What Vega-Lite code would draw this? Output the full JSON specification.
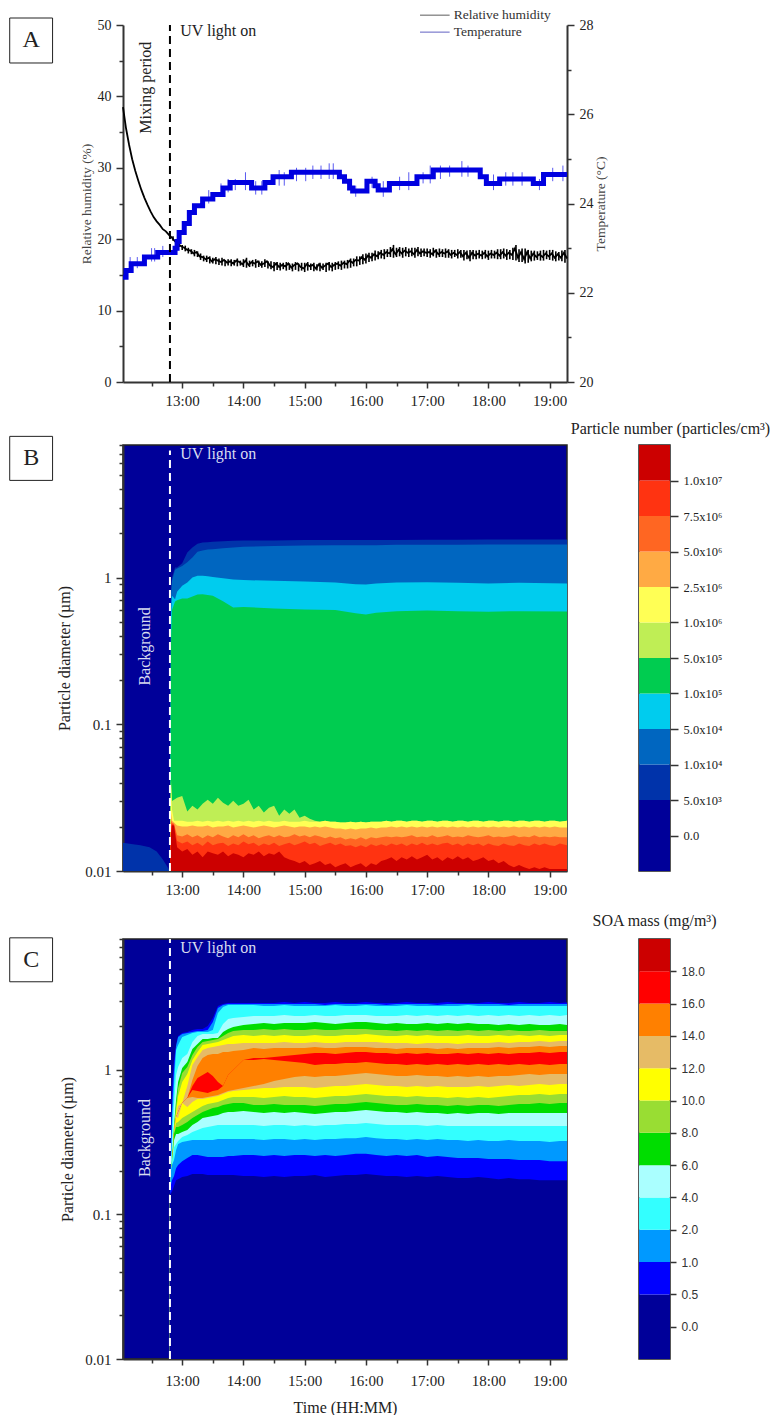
{
  "$schema": "https://vega.github.io/schema/vega-lite/v6.json",
  "background": "white",
  "padding": {"left": 8, "top": 8, "right": 0, "bottom": 0},
  "columns": 2,
  "bounds": "flush",
  "spacing": {"row": 68, "column": 72},
  "resolve": {"scale": {"color": "independent"}},
  "config": {
    "view": {"stroke": null},
    "axis": {
      "grid": false, "zindex": 1, "labelFont": "Liberation Serif", "titleFont": "Liberation Serif",
      "labelFontSize": 15, "titleFontSize": 16, "titleFontWeight": "normal", "labelColor": "#222", "titleColor": "#222",
      "domainColor": "#333", "tickColor": "#333", "domainWidth": 2, "tickWidth": 1.5, "tickSize": 7, "labelPadding": 5,
      "labelOverlap": false, "labelBound": false, "labelFlush": false
    },
    "title": {"font": "Liberation Serif", "fontSize": 16, "fontWeight": "normal", "color": "#222"},
    "text": {"font": "Liberation Serif"}
  },
  "concat": [
    {
      "width": 444,
      "height": 352,
      "resolve": {"scale": {"y": "independent"}, "axis": {"x": "independent", "y": "independent"}},
      "layer": [
        {
          "data": {"format": {"parse": {"t": "date:'%H:%M'"}}, "values": [
            {"t":"12:02","rh":38.5},{"t":"12:05","rh":35.5},{"t":"12:08","rh":33.2},{"t":"12:11","rh":31.2},{"t":"12:14","rh":29.6},{"t":"12:17","rh":28.2},{"t":"12:20","rh":26.9},{"t":"12:23","rh":25.8},{"t":"12:26","rh":24.8},{"t":"12:29","rh":23.9},{"t":"12:32","rh":23.1},{"t":"12:35","rh":22.5},{"t":"12:38","rh":22.0},{"t":"12:41","rh":21.4},{"t":"12:44","rh":21.1},{"t":"12:47","rh":20.6},{"t":"12:50","rh":20.2},{"t":"12:53","rh":19.7},{"t":"12:56","rh":19.3},{"t":"12:59","rh":19.0},{"t":"13:02","rh":18.8},{"t":"13:05","rh":18.5},{"t":"13:08","rh":18.4},{"t":"13:11","rh":18.0},{"t":"13:14","rh":18.2},{"t":"13:17","rh":17.6},{"t":"13:20","rh":17.5},{"t":"13:23","rh":17.2},{"t":"13:26","rh":17.4},{"t":"13:29","rh":16.9},{"t":"13:32","rh":17.2},{"t":"13:35","rh":17.0},{"t":"13:38","rh":16.8},{"t":"13:41","rh":17.1},{"t":"13:44","rh":16.7},{"t":"13:47","rh":16.9},{"t":"13:50","rh":16.6},{"t":"13:53","rh":17.0},{"t":"13:56","rh":16.8},{"t":"13:59","rh":16.5},{"t":"14:02","rh":17.0},{"t":"14:05","rh":16.4},{"t":"14:08","rh":16.8},{"t":"14:11","rh":16.6},{"t":"14:14","rh":16.9},{"t":"14:17","rh":16.4},{"t":"14:20","rh":16.6},{"t":"14:23","rh":16.9},{"t":"14:26","rh":16.3},{"t":"14:29","rh":16.1},{"t":"14:32","rh":16.6},{"t":"14:35","rh":16.1},{"t":"14:38","rh":16.4},{"t":"14:41","rh":16.2},{"t":"14:44","rh":16.6},{"t":"14:47","rh":16.0},{"t":"14:50","rh":16.4},{"t":"14:53","rh":16.6},{"t":"14:56","rh":16.1},{"t":"14:59","rh":15.9},{"t":"15:02","rh":16.5},{"t":"15:05","rh":16.2},{"t":"15:08","rh":16.4},{"t":"15:11","rh":15.9},{"t":"15:14","rh":16.5},{"t":"15:17","rh":16.0},{"t":"15:20","rh":16.3},{"t":"15:23","rh":16.6},{"t":"15:26","rh":16.1},{"t":"15:29","rh":16.4},{"t":"15:32","rh":16.6},{"t":"15:35","rh":16.3},{"t":"15:38","rh":16.7},{"t":"15:41","rh":16.5},{"t":"15:44","rh":17.0},{"t":"15:47","rh":16.7},{"t":"15:50","rh":17.1},{"t":"15:53","rh":17.0},{"t":"15:56","rh":17.5},{"t":"15:59","rh":17.1},{"t":"16:02","rh":17.7},{"t":"16:05","rh":17.4},{"t":"16:08","rh":17.9},{"t":"16:11","rh":17.6},{"t":"16:14","rh":18.1},{"t":"16:17","rh":17.8},{"t":"16:20","rh":18.2},{"t":"16:23","rh":18.0},{"t":"16:26","rh":18.6},{"t":"16:29","rh":17.9},{"t":"16:32","rh":18.5},{"t":"16:35","rh":18.0},{"t":"16:38","rh":18.4},{"t":"16:41","rh":18.1},{"t":"16:44","rh":18.3},{"t":"16:47","rh":17.9},{"t":"16:50","rh":18.5},{"t":"16:53","rh":18.0},{"t":"16:56","rh":18.3},{"t":"16:59","rh":18.1},{"t":"17:02","rh":18.2},{"t":"17:05","rh":17.9},{"t":"17:08","rh":18.4},{"t":"17:11","rh":17.9},{"t":"17:14","rh":18.2},{"t":"17:17","rh":18.0},{"t":"17:20","rh":18.3},{"t":"17:23","rh":17.8},{"t":"17:26","rh":18.1},{"t":"17:29","rh":17.8},{"t":"17:32","rh":18.2},{"t":"17:35","rh":17.6},{"t":"17:38","rh":18.1},{"t":"17:41","rh":17.4},{"t":"17:44","rh":18.1},{"t":"17:47","rh":17.7},{"t":"17:50","rh":18.0},{"t":"17:53","rh":17.7},{"t":"17:56","rh":18.1},{"t":"17:59","rh":17.6},{"t":"18:02","rh":18.0},{"t":"18:05","rh":17.8},{"t":"18:08","rh":18.1},{"t":"18:11","rh":17.7},{"t":"18:14","rh":18.2},{"t":"18:17","rh":17.7},{"t":"18:20","rh":18.1},{"t":"18:23","rh":17.8},{"t":"18:26","rh":18.7},{"t":"18:29","rh":17.4},{"t":"18:32","rh":18.2},{"t":"18:35","rh":17.2},{"t":"18:38","rh":18.2},{"t":"18:41","rh":17.3},{"t":"18:44","rh":18.0},{"t":"18:47","rh":17.5},{"t":"18:50","rh":17.9},{"t":"18:53","rh":17.5},{"t":"18:56","rh":18.0},{"t":"18:59","rh":17.6},{"t":"19:02","rh":18.0},{"t":"19:05","rh":17.4},{"t":"19:08","rh":17.9},{"t":"19:11","rh":17.4},{"t":"19:14","rh":18.1},{"t":"19:17","rh":17.3}
          ]},
          "mark": {"type": "line", "color": "#000", "strokeWidth": 1.8},
          "encoding": {
            "x": {"field": "t", "type": "temporal", "scale": {"domain": ["1900-01-01T12:02", "1900-01-01T19:17"], "nice": false}, "axis": {"title": null, "orient": "bottom", "format": "%H:%M", "offset": 5, "tickSize": 6, "labelPadding": 5, "values": ["1900-01-01T13:00","1900-01-01T14:00","1900-01-01T15:00","1900-01-01T16:00","1900-01-01T17:00","1900-01-01T18:00","1900-01-01T19:00"]}},
            "y": {"field": "rh", "type": "quantitative", "scale": {"domain": [0, 50], "range": [357, 0], "nice": false}, "axis": {"title": "Relative humidity (%)", "orient": "left", "titleFontSize": 13.5, "titleColor": "#444", "titlePadding": 4, "labelFontSize": 14, "values": [0, 10, 20, 30, 40, 50]}}
          }
        },
        {
          "data": {"format": {"parse": {"t": "date:'%H:%M'"}}, "values": [
            {"t":"12:51","lo":19.8,"hi":20.4},{"t":"12:54","lo":19.2,"hi":19.9},{"t":"12:57","lo":18.9,"hi":19.5},{"t":"13:00","lo":18.5,"hi":19.2},{"t":"13:03","lo":18.3,"hi":19.1},{"t":"13:06","lo":18.0,"hi":18.8},{"t":"13:09","lo":17.9,"hi":18.6},{"t":"13:12","lo":17.6,"hi":18.5},{"t":"13:15","lo":17.5,"hi":18.3},{"t":"13:18","lo":17.1,"hi":18.0},{"t":"13:21","lo":16.9,"hi":17.7},{"t":"13:24","lo":16.8,"hi":17.7},{"t":"13:27","lo":16.6,"hi":17.6},{"t":"13:30","lo":16.6,"hi":17.4},{"t":"13:33","lo":16.5,"hi":17.5},{"t":"13:36","lo":16.4,"hi":17.3},{"t":"13:39","lo":16.3,"hi":17.4},{"t":"13:42","lo":16.2,"hi":17.1},{"t":"13:45","lo":16.3,"hi":17.2},{"t":"13:48","lo":16.2,"hi":17.2},{"t":"13:51","lo":16.3,"hi":17.1},{"t":"13:54","lo":16.2,"hi":17.3},{"t":"13:57","lo":16.3,"hi":17.0},{"t":"14:00","lo":16.1,"hi":17.2},{"t":"14:03","lo":16.0,"hi":17.4},{"t":"14:06","lo":16.1,"hi":17.0},{"t":"14:09","lo":16.2,"hi":17.1},{"t":"14:12","lo":16.0,"hi":17.2},{"t":"14:15","lo":16.1,"hi":17.0},{"t":"14:18","lo":16.0,"hi":16.9},{"t":"14:21","lo":16.1,"hi":17.2},{"t":"14:24","lo":15.9,"hi":16.9},{"t":"14:27","lo":15.8,"hi":16.9},{"t":"14:30","lo":15.5,"hi":16.8},{"t":"14:33","lo":15.7,"hi":16.8},{"t":"14:36","lo":15.6,"hi":16.7},{"t":"14:39","lo":15.8,"hi":16.7},{"t":"14:42","lo":15.6,"hi":16.8},{"t":"14:45","lo":15.7,"hi":16.6},{"t":"14:48","lo":15.5,"hi":16.6},{"t":"14:51","lo":15.7,"hi":16.8},{"t":"14:54","lo":15.5,"hi":16.6},{"t":"14:57","lo":15.6,"hi":16.7},{"t":"15:00","lo":15.4,"hi":16.7},{"t":"15:03","lo":15.6,"hi":16.8},{"t":"15:06","lo":15.7,"hi":16.6},{"t":"15:09","lo":15.5,"hi":16.7},{"t":"15:12","lo":15.6,"hi":16.5},{"t":"15:15","lo":15.5,"hi":16.7},{"t":"15:18","lo":15.7,"hi":16.6},{"t":"15:21","lo":15.4,"hi":16.7},{"t":"15:24","lo":15.6,"hi":16.8},{"t":"15:27","lo":15.5,"hi":16.7},{"t":"15:30","lo":15.7,"hi":16.8},{"t":"15:33","lo":15.8,"hi":16.9},{"t":"15:36","lo":15.7,"hi":17.0},{"t":"15:39","lo":15.9,"hi":17.0},{"t":"15:42","lo":15.9,"hi":17.1},{"t":"15:45","lo":16.0,"hi":17.3},{"t":"15:48","lo":16.2,"hi":17.3},{"t":"15:51","lo":16.2,"hi":17.6},{"t":"15:54","lo":16.4,"hi":17.6},{"t":"15:57","lo":16.5,"hi":17.9},{"t":"16:00","lo":16.6,"hi":18.0},{"t":"16:03","lo":16.8,"hi":18.1},{"t":"16:06","lo":16.9,"hi":18.1},{"t":"16:09","lo":17.0,"hi":18.4},{"t":"16:12","lo":17.2,"hi":18.3},{"t":"16:15","lo":17.3,"hi":18.5},{"t":"16:18","lo":17.2,"hi":18.6},{"t":"16:21","lo":17.5,"hi":18.6},{"t":"16:24","lo":17.5,"hi":18.9},{"t":"16:27","lo":17.4,"hi":19.2},{"t":"16:30","lo":17.5,"hi":18.8},{"t":"16:33","lo":17.6,"hi":18.9},{"t":"16:36","lo":17.4,"hi":18.8},{"t":"16:39","lo":17.6,"hi":18.9},{"t":"16:42","lo":17.5,"hi":18.7},{"t":"16:45","lo":17.6,"hi":18.8},{"t":"16:48","lo":17.4,"hi":18.8},{"t":"16:51","lo":17.6,"hi":18.9},{"t":"16:54","lo":17.5,"hi":18.7},{"t":"16:57","lo":17.6,"hi":18.7},{"t":"17:00","lo":17.5,"hi":18.7},{"t":"17:03","lo":17.4,"hi":18.6},{"t":"17:06","lo":17.6,"hi":18.8},{"t":"17:09","lo":17.4,"hi":18.6},{"t":"17:12","lo":17.5,"hi":18.7},{"t":"17:15","lo":17.5,"hi":18.6},{"t":"17:18","lo":17.4,"hi":18.7},{"t":"17:21","lo":17.4,"hi":18.6},{"t":"17:24","lo":17.3,"hi":18.5},{"t":"17:27","lo":17.5,"hi":18.5},{"t":"17:30","lo":17.3,"hi":18.6},{"t":"17:33","lo":17.4,"hi":18.5},{"t":"17:36","lo":17.0,"hi":18.5},{"t":"17:39","lo":17.2,"hi":18.4},{"t":"17:42","lo":16.9,"hi":18.5},{"t":"17:45","lo":17.2,"hi":18.5},{"t":"17:48","lo":17.2,"hi":18.4},{"t":"17:51","lo":17.3,"hi":18.5},{"t":"17:54","lo":17.2,"hi":18.4},{"t":"17:57","lo":17.3,"hi":18.5},{"t":"18:00","lo":17.1,"hi":18.4},{"t":"18:03","lo":17.3,"hi":18.5},{"t":"18:06","lo":17.3,"hi":18.4},{"t":"18:09","lo":17.2,"hi":18.6},{"t":"18:12","lo":17.2,"hi":18.6},{"t":"18:15","lo":17.3,"hi":18.7},{"t":"18:18","lo":17.1,"hi":18.6},{"t":"18:21","lo":17.2,"hi":18.5},{"t":"18:24","lo":17.1,"hi":18.8},{"t":"18:27","lo":17.0,"hi":19.2},{"t":"18:30","lo":16.8,"hi":18.6},{"t":"18:33","lo":16.8,"hi":18.7},{"t":"18:36","lo":16.6,"hi":18.7},{"t":"18:39","lo":16.7,"hi":18.5},{"t":"18:42","lo":16.9,"hi":18.4},{"t":"18:45","lo":17.0,"hi":18.4},{"t":"18:48","lo":17.1,"hi":18.3},{"t":"18:51","lo":17.0,"hi":18.4},{"t":"18:54","lo":17.0,"hi":18.5},{"t":"18:57","lo":17.2,"hi":18.4},{"t":"19:00","lo":17.1,"hi":18.5},{"t":"19:03","lo":17.0,"hi":18.5},{"t":"19:06","lo":16.9,"hi":18.3},{"t":"19:09","lo":17.0,"hi":18.2},{"t":"19:12","lo":16.9,"hi":18.4},{"t":"19:15","lo":16.7,"hi":18.5}
          ]},
          "mark": {"type": "rule", "color": "#000", "strokeWidth": 1.6},
          "encoding": {
            "x": {"field": "t", "type": "temporal", "scale": {"domain": ["1900-01-01T12:02", "1900-01-01T19:17"], "nice": false}, "axis": null},
            "y": {"field": "lo", "type": "quantitative", "scale": {"domain": [0, 50], "range": [357, 0], "nice": false}, "axis": null},
            "y2": {"field": "hi"}
          }
        },
        {
          "data": {"format": {"parse": {"t": "date:'%H:%M'"}}, "values": [
            {"t":"12:09","lo":22.45,"hi":22.8},{"t":"12:16","lo":22.55,"hi":22.8},{"t":"12:30","lo":22.7,"hi":23.0},{"t":"12:33","lo":22.7,"hi":23.0},{"t":"12:41","lo":22.8,"hi":23.05},{"t":"13:26","lo":24.0,"hi":24.3},{"t":"13:38","lo":24.15,"hi":24.45},{"t":"13:45","lo":24.25,"hi":24.55},{"t":"13:52","lo":24.3,"hi":24.55},{"t":"14:02","lo":24.3,"hi":24.7},{"t":"14:12","lo":24.2,"hi":24.5},{"t":"14:18","lo":24.2,"hi":24.5},{"t":"14:35","lo":24.4,"hi":24.75},{"t":"14:40","lo":24.4,"hi":24.7},{"t":"14:52","lo":24.5,"hi":24.8},{"t":"15:01","lo":24.5,"hi":24.8},{"t":"15:08","lo":24.55,"hi":24.85},{"t":"15:16","lo":24.55,"hi":24.85},{"t":"15:24","lo":24.55,"hi":24.9},{"t":"15:28","lo":24.55,"hi":24.9},{"t":"15:50","lo":24.15,"hi":24.4},{"t":"16:06","lo":24.35,"hi":24.6},{"t":"16:17","lo":24.15,"hi":24.5},{"t":"16:33","lo":24.3,"hi":24.6},{"t":"16:42","lo":24.3,"hi":24.7},{"t":"16:56","lo":24.45,"hi":24.7},{"t":"17:03","lo":24.45,"hi":24.85},{"t":"17:13","lo":24.55,"hi":24.85},{"t":"17:22","lo":24.6,"hi":24.85},{"t":"17:34","lo":24.6,"hi":24.95},{"t":"17:40","lo":24.6,"hi":24.85},{"t":"18:05","lo":24.3,"hi":24.65},{"t":"18:17","lo":24.4,"hi":24.7},{"t":"18:24","lo":24.4,"hi":24.7},{"t":"18:33","lo":24.4,"hi":24.7},{"t":"18:50","lo":24.3,"hi":24.55},{"t":"19:03","lo":24.5,"hi":24.8},{"t":"19:13","lo":24.5,"hi":24.85}
          ]},
          "mark": {"type": "rule", "color": "#5a5af0", "strokeWidth": 1},
          "encoding": {
            "x": {"field": "t", "type": "temporal", "scale": {"domain": ["1900-01-01T12:02", "1900-01-01T19:17"], "nice": false}, "axis": null},
            "y": {"field": "lo", "type": "quantitative", "scale": {"domain": [20, 28], "range": [357, 0], "nice": false}, "axis": null},
            "y2": {"field": "hi"}
          }
        },
        {
          "data": {"format": {"parse": {"t": "date:'%H:%M'"}}, "values": [
            {"t":"12:02","temp":22.35},{"t":"12:05","temp":22.5},{"t":"12:10","temp":22.65},{"t":"12:23","temp":22.8},{"t":"12:36","temp":22.9},{"t":"12:53","temp":23.0},{"t":"12:55","temp":23.15},{"t":"12:57","temp":23.35},{"t":"13:02","temp":23.55},{"t":"13:07","temp":23.8},{"t":"13:12","temp":23.95},{"t":"13:20","temp":24.1},{"t":"13:30","temp":24.2},{"t":"13:40","temp":24.35},{"t":"13:47","temp":24.47},{"t":"14:08","temp":24.35},{"t":"14:21","temp":24.47},{"t":"14:29","temp":24.6},{"t":"14:47","temp":24.7},{"t":"15:34","temp":24.6},{"t":"15:39","temp":24.5},{"t":"15:44","temp":24.35},{"t":"15:47","temp":24.28},{"t":"16:01","temp":24.5},{"t":"16:09","temp":24.4},{"t":"16:12","temp":24.3},{"t":"16:23","temp":24.45},{"t":"16:50","temp":24.6},{"t":"17:06","temp":24.75},{"t":"17:52","temp":24.6},{"t":"17:58","temp":24.45},{"t":"18:11","temp":24.55},{"t":"18:44","temp":24.45},{"t":"18:54","temp":24.65},{"t":"19:17","temp":24.65}
          ]},
          "mark": {"type": "line", "color": "#0000e0", "strokeWidth": 5, "interpolate": "step-after"},
          "encoding": {
            "x": {"field": "t", "type": "temporal", "scale": {"domain": ["1900-01-01T12:02", "1900-01-01T19:17"], "nice": false}, "axis": null},
            "y": {"field": "temp", "type": "quantitative", "scale": {"domain": [20, 28], "range": [357, 0], "nice": false}, "axis": {"title": "Temperature (°C)", "orient": "right", "titleAngle": 270, "titleBaseline": "top", "titleFontSize": 13.5, "titleColor": "#444", "titlePadding": 0, "labelFontSize": 14, "values": [20, 22, 24, 26, 28]}}
          }
        },
        {
          "data": {"format": {"parse": {"t": "date:'%H:%M'"}}, "values": [{"t": "12:48", "lo": 0, "hi": 50}]},
          "mark": {"type": "rule", "color": "#000", "strokeWidth": 2, "strokeDash": [8, 5]},
          "encoding": {
            "x": {"field": "t", "type": "temporal", "scale": {"domain": ["1900-01-01T12:02", "1900-01-01T19:17"], "nice": false}, "axis": {"title": null, "orient": "bottom", "labels": false, "domain": false, "tickSize": 4, "offset": 5, "values": ["1900-01-01T12:30","1900-01-01T13:30","1900-01-01T14:30","1900-01-01T15:30","1900-01-01T16:30","1900-01-01T17:30","1900-01-01T18:30"]}},
            "y": {"field": "lo", "type": "quantitative", "scale": {"domain": [0, 50], "range": [357, 0], "nice": false}, "axis": {"title": null, "orient": "left", "labels": false, "domain": false, "tickSize": 4, "values": [5, 15, 25, 35, 45]}},
            "y2": {"field": "hi"}
          }
        },
        {
          "data": {"format": {"parse": {"a": "date:'%H:%M'", "b": "date:'%H:%M'"}}, "values": [
            {"a": "16:53", "b": "17:22", "y": 28.22, "c": "Relative humidity"},
            {"a": "16:53", "b": "17:22", "y": 27.84, "c": "Temperature"}
          ]},
          "mark": {"type": "rule", "strokeWidth": 1.2},
          "encoding": {
            "x": {"field": "a", "type": "temporal", "scale": {"domain": ["1900-01-01T12:02", "1900-01-01T19:17"], "nice": false}, "axis": null},
            "x2": {"field": "b"},
            "y": {"field": "y", "type": "quantitative", "scale": {"domain": [20, 28], "range": [357, 0], "nice": false}, "axis": {"title": null, "labels": false, "domain": false, "orient": "right", "tickSize": 4, "values": [21, 23, 25, 27]}},
            "color": {"field": "c", "type": "nominal", "scale": {"domain": ["Relative humidity", "Temperature"], "range": ["#777777", "#7a7acc"]}, "legend": null}
          }
        },
        {
          "data": {"format": {"parse": {"t": "date:'%H:%M'"}}, "values": [
            {"t": "17:26", "y": 28.22, "c": "Relative humidity"},
            {"t": "17:26", "y": 27.84, "c": "Temperature"}
          ]},
          "mark": {"type": "text", "align": "left", "baseline": "middle", "fontSize": 13.5, "color": "#333"},
          "encoding": {
            "x": {"field": "t", "type": "temporal", "scale": {"domain": ["1900-01-01T12:02", "1900-01-01T19:17"], "nice": false}, "axis": null},
            "y": {"field": "y", "type": "quantitative", "scale": {"domain": [20, 28], "range": [357, 0], "nice": false}, "axis": null},
            "text": {"field": "c"}
          }
        },
        {
          "data": {"format": {"parse": {"t": "date:'%H:%M'"}}, "values": [{"t": "12:58", "y": 49.2, "c": "UV light on"}]},
          "mark": {"type": "text", "align": "left", "baseline": "middle", "fontSize": 16, "color": "#222"},
          "encoding": {
            "x": {"field": "t", "type": "temporal", "scale": {"domain": ["1900-01-01T12:02", "1900-01-01T19:17"], "nice": false}, "axis": null},
            "y": {"field": "y", "type": "quantitative", "scale": {"domain": [0, 50], "range": [357, 0], "nice": false}, "axis": null},
            "text": {"field": "c"}
          }
        },
        {
          "data": {"format": {"parse": {"t": "date:'%H:%M'"}}, "values": [{"t": "12:25", "y": 41.2, "c": "Mixing period"}]},
          "mark": {"type": "text", "angle": 270, "align": "center", "baseline": "middle", "fontSize": 16, "color": "#222"},
          "encoding": {
            "x": {"field": "t", "type": "temporal", "scale": {"domain": ["1900-01-01T12:02", "1900-01-01T19:17"], "nice": false}, "axis": null},
            "y": {"field": "y", "type": "quantitative", "scale": {"domain": [0, 50], "range": [357, 0], "nice": false}, "axis": null},
            "text": {"field": "c"}
          }
        },
        {
          "data": {"format": {"parse": {"a": "date:'%H:%M'", "b": "date:'%H:%M'"}}, "values": [{"a": "10:11", "b": "10:53", "top": 50.98, "bot": 44.68}]},
          "mark": {"type": "rect", "fill": "white", "stroke": "#222", "strokeWidth": 1},
          "encoding": {
            "x": {"field": "a", "type": "temporal", "scale": {"domain": ["1900-01-01T12:02", "1900-01-01T19:17"], "nice": false}, "axis": null},
            "x2": {"field": "b"},
            "y": {"field": "top", "type": "quantitative", "scale": {"domain": [0, 50], "range": [357, 0], "nice": false}, "axis": null},
            "y2": {"field": "bot"}
          }
        },
        {
          "data": {"format": {"parse": {"t": "date:'%H:%M'"}}, "values": [{"t": "10:32", "y": 47.83, "c": "A"}]},
          "mark": {"type": "text", "align": "center", "baseline": "middle", "fontSize": 24, "color": "#222"},
          "encoding": {
            "x": {"field": "t", "type": "temporal", "scale": {"domain": ["1900-01-01T12:02", "1900-01-01T19:17"], "nice": false}, "axis": null},
            "y": {"field": "y", "type": "quantitative", "scale": {"domain": [0, 50], "range": [357, 0], "nice": false}, "axis": null},
            "text": {"field": "c"}
          }
        }
      ]
    },
    {
      "width": 31,
      "height": 352,
      "data": {"values": [{"c": ""}]},
      "mark": {"type": "text"},
      "encoding": {"text": {"field": "c"}}
    },
    {
      "width": 444,
      "height": 426,
      "view": {"fill": "#000099", "stroke": "#222", "strokeWidth": 1.5},
      "resolve": {"axis": {"x": "independent", "y": "independent"}},
      "layer": [
        {
          "data": {"format": {"parse": {"t": "date:'%H:%M'"}}, "values": [
            {"t":"12:02","b1":0.0156,"b2":0.01,"b3":0.01,"b4":0.01},{"t":"12:10","b1":0.0153,"b2":0.01,"b3":0.01,"b4":0.01},{"t":"12:19","b1":0.015,"b2":0.01,"b3":0.01,"b4":0.01},{"t":"12:28","b1":0.0145,"b2":0.01,"b3":0.01,"b4":0.01},{"t":"12:35","b1":0.0136,"b2":0.01,"b3":0.01,"b4":0.01},{"t":"12:41","b1":0.012,"b2":0.01,"b3":0.01,"b4":0.01},{"t":"12:45","b1":0.0108,"b2":0.01,"b3":0.01,"b4":0.01},{"t":"12:48","b1":0.01,"b2":0.01,"b3":0.01,"b4":0.01},
            {"t":"12:49","b1":0.8,"b2":0.75,"b3":0.55,"b4":0.36},{"t":"12:50","b1":1.0,"b2":0.95,"b3":0.75,"b4":0.6},{"t":"12:53","b1":1.17,"b2":1.13,"b3":0.71,"b4":0.686},{"t":"12:55","b1":1.17,"b2":1.15,"b3":0.8,"b4":0.7},{"t":"13:00","b1":1.25,"b2":1.2,"b3":0.88,"b4":0.72},{"t":"13:05","b1":1.48,"b2":1.27,"b3":0.925,"b4":0.72},{"t":"13:10","b1":1.6,"b2":1.37,"b3":1.0,"b4":0.742},{"t":"13:15","b1":1.7,"b2":1.5,"b3":1.03,"b4":0.766},{"t":"13:20","b1":1.73,"b2":1.53,"b3":1.03,"b4":0.77},{"t":"13:25","b1":1.74,"b2":1.55,"b3":1.02,"b4":0.76},{"t":"13:30","b1":1.75,"b2":1.56,"b3":1.01,"b4":0.75},{"t":"13:40","b1":1.77,"b2":1.58,"b3":0.99,"b4":0.69},{"t":"13:50","b1":1.78,"b2":1.6,"b3":0.97,"b4":0.625},{"t":"14:00","b1":1.79,"b2":1.62,"b3":0.96,"b4":0.63},{"t":"14:30","b1":1.79,"b2":1.64,"b3":0.95,"b4":0.615},{"t":"15:00","b1":1.8,"b2":1.65,"b3":0.939,"b4":0.605},{"t":"15:30","b1":1.8,"b2":1.66,"b3":0.925,"b4":0.6},{"t":"15:50","b1":1.8,"b2":1.66,"b3":0.9,"b4":0.57},{"t":"16:00","b1":1.8,"b2":1.66,"b3":0.896,"b4":0.56},{"t":"16:10","b1":1.8,"b2":1.66,"b3":0.91,"b4":0.575},{"t":"16:30","b1":1.8,"b2":1.67,"b3":0.925,"b4":0.59},{"t":"17:00","b1":1.81,"b2":1.67,"b3":0.93,"b4":0.595},{"t":"17:30","b1":1.81,"b2":1.67,"b3":0.92,"b4":0.59},{"t":"18:00","b1":1.815,"b2":1.68,"b3":0.91,"b4":0.585},{"t":"18:30","b1":1.815,"b2":1.68,"b3":0.92,"b4":0.59},{"t":"19:17","b1":1.815,"b2":1.68,"b3":0.91,"b4":0.587}
          ]},
          "transform": [{"fold": ["b1", "b2", "b3", "b4"], "as": ["band", "um"]}],
          "mark": {"type": "area", "orient": "vertical", "clip": true},
          "encoding": {
            "x": {"field": "t", "type": "temporal", "scale": {"domain": ["1900-01-01T12:02", "1900-01-01T19:17"], "nice": false}, "axis": {"title": null, "orient": "bottom", "format": "%H:%M", "tickSize": 6, "labelPadding": 5, "values": ["1900-01-01T13:00","1900-01-01T14:00","1900-01-01T15:00","1900-01-01T16:00","1900-01-01T17:00","1900-01-01T18:00","1900-01-01T19:00"]}},
            "y": {"field": "um", "type": "quantitative", "stack": null, "scale": {"type": "log", "domain": [0.01, 8], "nice": false}, "axis": {"title": "Particle diameter (µm)", "orient": "left", "titlePadding": 12, "format": "~g", "values": [0.01, 0.1, 1]}},
            "y2": {"datum": 0.01},
            "color": {"field": "band", "type": "nominal", "scale": {"domain": ["b1","b2","b3","b4","b5","b6","b7","b8","b9","b10"], "range": ["#0033AA","#0066C0","#00CCEE","#00CC50","#BFEE55","#FFFF55","#FFAA44","#FF6622","#FF3311","#CC0000"]}, "legend": null}
          }
        },
        {
          "data": {"format": {"parse": {"t": "date:'%H:%M'"}}, "values": [
            {"t":"12:48","b5":0.01,"b6":0.01,"b7":0.01,"b8":0.01,"b9":0.01,"b10":0.01},
            {"t":"12:49","b5":0.042,"b6":0.04,"b7":0.025,"b8":0.022,"b9":0.02,"b10":0.018},
            {"t":"12:50","b5":0.03,"b6":0.0262,"b7":0.022,"b8":0.0214,"b9":0.021,"b10":0.0205},
            {"t":"12:52","b5":0.0306,"b6":0.022,"b7":0.0214,"b8":0.021,"b9":0.0207,"b10":0.0204},
            {"t":"12:55","b5":0.0316,"b6":0.022,"b7":0.0204,"b8":0.0175,"b9":0.016,"b10":0.0145},
            {"t":"13:00","b5":0.0325,"b6":0.022,"b7":0.0201,"b8":0.0172,"b9":0.0154,"b10":0.0136},
            {"t":"13:05","b5":0.0254,"b6":0.0217,"b7":0.0201,"b8":0.0178,"b9":0.0159,"b10":0.0141},
            {"t":"13:10","b5":0.0278,"b6":0.0217,"b7":0.0204,"b8":0.017,"b9":0.015,"b10":0.0129},
            {"t":"13:15","b5":0.0262,"b6":0.022,"b7":0.0201,"b8":0.0175,"b9":0.0156,"b10":0.0136},
            {"t":"13:20","b5":0.0287,"b6":0.0217,"b7":0.0201,"b8":0.0167,"b9":0.0148,"b10":0.0124},
            {"t":"13:25","b5":0.0306,"b6":0.022,"b7":0.0204,"b8":0.0175,"b9":0.0159,"b10":0.0136},
            {"t":"13:30","b5":0.0287,"b6":0.0217,"b7":0.0198,"b8":0.017,"b9":0.015,"b10":0.0132},
            {"t":"13:35","b5":0.0316,"b6":0.022,"b7":0.0201,"b8":0.0178,"b9":0.0154,"b10":0.0129},
            {"t":"13:40","b5":0.0292,"b6":0.0217,"b7":0.0201,"b8":0.0172,"b9":0.0156,"b10":0.0136},
            {"t":"13:45","b5":0.0278,"b6":0.022,"b7":0.0204,"b8":0.0167,"b9":0.0148,"b10":0.0126},
            {"t":"13:50","b5":0.0301,"b6":0.0217,"b7":0.0198,"b8":0.0175,"b9":0.0154,"b10":0.0132},
            {"t":"13:55","b5":0.0278,"b6":0.022,"b7":0.0201,"b8":0.017,"b9":0.015,"b10":0.0129},
            {"t":"14:00","b5":0.0287,"b6":0.0217,"b7":0.0204,"b8":0.0178,"b9":0.0159,"b10":0.0124},
            {"t":"14:05","b5":0.0306,"b6":0.022,"b7":0.0201,"b8":0.017,"b9":0.0152,"b10":0.0132},
            {"t":"14:10","b5":0.0262,"b6":0.0217,"b7":0.0198,"b8":0.0175,"b9":0.0156,"b10":0.0129},
            {"t":"14:15","b5":0.0278,"b6":0.022,"b7":0.0201,"b8":0.0167,"b9":0.0148,"b10":0.0136},
            {"t":"14:20","b5":0.025,"b6":0.0217,"b7":0.0204,"b8":0.0172,"b9":0.0154,"b10":0.0126},
            {"t":"14:25","b5":0.027,"b6":0.022,"b7":0.0201,"b8":0.0175,"b9":0.015,"b10":0.0132},
            {"t":"14:30","b5":0.0278,"b6":0.0217,"b7":0.0198,"b8":0.017,"b9":0.0156,"b10":0.0129},
            {"t":"14:35","b5":0.0238,"b6":0.0217,"b7":0.0201,"b8":0.0175,"b9":0.0148,"b10":0.0136},
            {"t":"14:40","b5":0.0262,"b6":0.022,"b7":0.0204,"b8":0.017,"b9":0.0152,"b10":0.0124},
            {"t":"14:45","b5":0.0246,"b6":0.0217,"b7":0.0201,"b8":0.0172,"b9":0.0156,"b10":0.012},
            {"t":"14:50","b5":0.0262,"b6":0.0217,"b7":0.0198,"b8":0.0178,"b9":0.015,"b10":0.0117},
            {"t":"14:55","b5":0.0231,"b6":0.0217,"b7":0.0201,"b8":0.0172,"b9":0.0154,"b10":0.0113},
            {"t":"15:00","b5":0.0238,"b6":0.022,"b7":0.0201,"b8":0.0175,"b9":0.0159,"b10":0.0117},
            {"t":"15:05","b5":0.0227,"b6":0.0217,"b7":0.0198,"b8":0.017,"b9":0.0152,"b10":0.011},
            {"t":"15:10","b5":0.022,"b6":0.0217,"b7":0.0201,"b8":0.0175,"b9":0.0156,"b10":0.0113},
            {"t":"15:15","b5":0.0217,"b6":0.0217,"b7":0.0198,"b8":0.0172,"b9":0.0148,"b10":0.0117},
            {"t":"15:20","b5":0.022,"b6":0.022,"b7":0.0201,"b8":0.0167,"b9":0.0152,"b10":0.011},
            {"t":"15:25","b5":0.0217,"b6":0.0217,"b7":0.0198,"b8":0.0172,"b9":0.0156,"b10":0.0113},
            {"t":"15:30","b5":0.0217,"b6":0.0217,"b7":0.0195,"b8":0.0167,"b9":0.015,"b10":0.0106},
            {"t":"15:35","b5":0.0214,"b6":0.0214,"b7":0.0195,"b8":0.017,"b9":0.0154,"b10":0.011},
            {"t":"15:40","b5":0.0214,"b6":0.0214,"b7":0.0192,"b8":0.0164,"b9":0.0148,"b10":0.0113},
            {"t":"15:45","b5":0.0217,"b6":0.0217,"b7":0.0195,"b8":0.0167,"b9":0.015,"b10":0.0106},
            {"t":"15:50","b5":0.0214,"b6":0.0214,"b7":0.0192,"b8":0.0164,"b9":0.0145,"b10":0.011},
            {"t":"15:55","b5":0.0217,"b6":0.0217,"b7":0.0195,"b8":0.017,"b9":0.015,"b10":0.0113},
            {"t":"16:00","b5":0.0214,"b6":0.0214,"b7":0.0195,"b8":0.0164,"b9":0.0145,"b10":0.0106},
            {"t":"16:05","b5":0.0217,"b6":0.0217,"b7":0.0198,"b8":0.017,"b9":0.0152,"b10":0.0113},
            {"t":"16:10","b5":0.0217,"b6":0.0217,"b7":0.0195,"b8":0.0167,"b9":0.0148,"b10":0.011},
            {"t":"16:15","b5":0.0217,"b6":0.0217,"b7":0.0198,"b8":0.017,"b9":0.0152,"b10":0.0117},
            {"t":"16:20","b5":0.022,"b6":0.022,"b7":0.0198,"b8":0.0172,"b9":0.0148,"b10":0.012},
            {"t":"16:25","b5":0.0217,"b6":0.0217,"b7":0.0201,"b8":0.017,"b9":0.0154,"b10":0.0124},
            {"t":"16:30","b5":0.022,"b6":0.022,"b7":0.0198,"b8":0.0172,"b9":0.015,"b10":0.0117},
            {"t":"16:35","b5":0.022,"b6":0.022,"b7":0.0201,"b8":0.017,"b9":0.0154,"b10":0.0124},
            {"t":"16:40","b5":0.0217,"b6":0.0217,"b7":0.0198,"b8":0.0172,"b9":0.0148,"b10":0.012},
            {"t":"16:45","b5":0.022,"b6":0.022,"b7":0.0201,"b8":0.0175,"b9":0.0154,"b10":0.0126},
            {"t":"16:50","b5":0.022,"b6":0.022,"b7":0.0198,"b8":0.017,"b9":0.015,"b10":0.012},
            {"t":"16:55","b5":0.0217,"b6":0.0217,"b7":0.0201,"b8":0.0172,"b9":0.0156,"b10":0.0124},
            {"t":"17:00","b5":0.022,"b6":0.022,"b7":0.0198,"b8":0.017,"b9":0.015,"b10":0.0129},
            {"t":"17:05","b5":0.022,"b6":0.022,"b7":0.0201,"b8":0.0175,"b9":0.0154,"b10":0.012},
            {"t":"17:10","b5":0.0217,"b6":0.0217,"b7":0.0198,"b8":0.017,"b9":0.015,"b10":0.0124},
            {"t":"17:15","b5":0.022,"b6":0.022,"b7":0.0201,"b8":0.0172,"b9":0.0154,"b10":0.0117},
            {"t":"17:20","b5":0.022,"b6":0.022,"b7":0.0198,"b8":0.0175,"b9":0.0156,"b10":0.0124},
            {"t":"17:25","b5":0.0217,"b6":0.0217,"b7":0.0201,"b8":0.017,"b9":0.015,"b10":0.012},
            {"t":"17:30","b5":0.022,"b6":0.022,"b7":0.0198,"b8":0.0172,"b9":0.0154,"b10":0.0126},
            {"t":"17:35","b5":0.022,"b6":0.022,"b7":0.0201,"b8":0.017,"b9":0.0148,"b10":0.012},
            {"t":"17:40","b5":0.0217,"b6":0.0217,"b7":0.0198,"b8":0.0175,"b9":0.0154,"b10":0.0124},
            {"t":"17:45","b5":0.022,"b6":0.022,"b7":0.0201,"b8":0.0172,"b9":0.015,"b10":0.0117},
            {"t":"17:50","b5":0.022,"b6":0.022,"b7":0.0198,"b8":0.017,"b9":0.0154,"b10":0.012},
            {"t":"17:55","b5":0.0217,"b6":0.0217,"b7":0.0201,"b8":0.0172,"b9":0.0148,"b10":0.0124},
            {"t":"18:00","b5":0.022,"b6":0.022,"b7":0.0198,"b8":0.0175,"b9":0.0154,"b10":0.0117},
            {"t":"18:05","b5":0.022,"b6":0.022,"b7":0.0201,"b8":0.017,"b9":0.015,"b10":0.012},
            {"t":"18:10","b5":0.0217,"b6":0.0217,"b7":0.0198,"b8":0.0172,"b9":0.0148,"b10":0.0113},
            {"t":"18:15","b5":0.022,"b6":0.022,"b7":0.0201,"b8":0.017,"b9":0.0154,"b10":0.0117},
            {"t":"18:20","b5":0.022,"b6":0.022,"b7":0.0198,"b8":0.0172,"b9":0.015,"b10":0.011},
            {"t":"18:25","b5":0.0217,"b6":0.0217,"b7":0.0201,"b8":0.0175,"b9":0.0148,"b10":0.0106},
            {"t":"18:30","b5":0.022,"b6":0.022,"b7":0.0198,"b8":0.017,"b9":0.0154,"b10":0.011},
            {"t":"18:35","b5":0.022,"b6":0.022,"b7":0.0201,"b8":0.0172,"b9":0.015,"b10":0.0106},
            {"t":"18:40","b5":0.0217,"b6":0.0217,"b7":0.0198,"b8":0.017,"b9":0.0148,"b10":0.0103},
            {"t":"18:45","b5":0.022,"b6":0.022,"b7":0.0201,"b8":0.0175,"b9":0.0154,"b10":0.0106},
            {"t":"18:50","b5":0.022,"b6":0.022,"b7":0.0198,"b8":0.017,"b9":0.015,"b10":0.0103},
            {"t":"18:55","b5":0.0217,"b6":0.0217,"b7":0.0201,"b8":0.0172,"b9":0.0154,"b10":0.0106},
            {"t":"19:00","b5":0.022,"b6":0.022,"b7":0.0198,"b8":0.017,"b9":0.015,"b10":0.0103},
            {"t":"19:05","b5":0.022,"b6":0.022,"b7":0.0201,"b8":0.0172,"b9":0.0148,"b10":0.0103},
            {"t":"19:10","b5":0.0217,"b6":0.0217,"b7":0.0198,"b8":0.017,"b9":0.0154,"b10":0.0103},
            {"t":"19:17","b5":0.022,"b6":0.022,"b7":0.0198,"b8":0.017,"b9":0.015,"b10":0.0103}
          ]},
          "transform": [{"fold": ["b5", "b6", "b7", "b8", "b9", "b10"], "as": ["band", "um"]}],
          "mark": {"type": "area", "orient": "vertical", "clip": true},
          "encoding": {
            "x": {"field": "t", "type": "temporal", "scale": {"domain": ["1900-01-01T12:02", "1900-01-01T19:17"], "nice": false}, "axis": null},
            "y": {"field": "um", "type": "quantitative", "stack": null, "scale": {"type": "log", "domain": [0.01, 8], "nice": false}, "axis": null},
            "y2": {"datum": 0.01},
            "color": {"field": "band", "type": "nominal", "scale": {"domain": ["b1","b2","b3","b4","b5","b6","b7","b8","b9","b10"], "range": ["#0033AA","#0066C0","#00CCEE","#00CC50","#BFEE55","#FFFF55","#FFAA44","#FF6622","#FF3311","#CC0000"]}, "legend": null}
          }
        },
        {
          "data": {"format": {"parse": {"t": "date:'%H:%M'"}}, "values": [{"t": "12:48", "lo": 0.01, "hi": 7.34}]},
          "mark": {"type": "rule", "color": "#fff", "strokeWidth": 2, "strokeDash": [8, 5]},
          "encoding": {
            "x": {"field": "t", "type": "temporal", "scale": {"domain": ["1900-01-01T12:02", "1900-01-01T19:17"], "nice": false}, "axis": {"title": null, "orient": "bottom", "labels": false, "domain": false, "tickSize": 4, "values": ["1900-01-01T12:30","1900-01-01T13:30","1900-01-01T14:30","1900-01-01T15:30","1900-01-01T16:30","1900-01-01T17:30","1900-01-01T18:30"]}},
            "y": {"field": "lo", "type": "quantitative", "scale": {"type": "log", "domain": [0.01, 8], "nice": false}, "axis": {"title": null, "orient": "left", "labels": false, "domain": false, "tickSize": 4, "values": [0.02,0.03,0.04,0.05,0.06,0.07,0.08,0.09,0.2,0.3,0.4,0.5,0.6,0.7,0.8,0.9,2,3,4,5,6,7,8]}},
            "y2": {"field": "hi"}
          }
        },
        {
          "data": {"format": {"parse": {"t": "date:'%H:%M'"}}, "values": [{"t": "12:58", "y": 7.0, "c": "UV light on"}]},
          "mark": {"type": "text", "align": "left", "baseline": "middle", "fontSize": 16, "color": "#d8dcf0"},
          "encoding": {
            "x": {"field": "t", "type": "temporal", "scale": {"domain": ["1900-01-01T12:02", "1900-01-01T19:17"], "nice": false}, "axis": null},
            "y": {"field": "y", "type": "quantitative", "scale": {"type": "log", "domain": [0.01, 8], "nice": false}, "axis": null},
            "text": {"field": "c"}
          }
        },
        {
          "data": {"format": {"parse": {"t": "date:'%H:%M'"}}, "values": [{"t": "12:24", "y": 0.339, "c": "Background"}]},
          "mark": {"type": "text", "angle": 270, "align": "center", "baseline": "middle", "fontSize": 16, "color": "#d8dcf0"},
          "encoding": {
            "x": {"field": "t", "type": "temporal", "scale": {"domain": ["1900-01-01T12:02", "1900-01-01T19:17"], "nice": false}, "axis": null},
            "y": {"field": "y", "type": "quantitative", "scale": {"type": "log", "domain": [0.01, 8], "nice": false}, "axis": null},
            "text": {"field": "c"}
          }
        },
        {
          "data": {"format": {"parse": {"a": "date:'%H:%M'", "b": "date:'%H:%M'"}}, "values": [{"a": "10:11", "b": "10:53", "top": 9.16, "bot": 4.59}]},
          "mark": {"type": "rect", "fill": "white", "stroke": "#222", "strokeWidth": 1},
          "encoding": {
            "x": {"field": "a", "type": "temporal", "scale": {"domain": ["1900-01-01T12:02", "1900-01-01T19:17"], "nice": false}, "axis": null},
            "x2": {"field": "b"},
            "y": {"field": "top", "type": "quantitative", "scale": {"type": "log", "domain": [0.01, 8], "nice": false}, "axis": null},
            "y2": {"field": "bot"}
          }
        },
        {
          "data": {"format": {"parse": {"t": "date:'%H:%M'"}}, "values": [{"t": "10:32", "y": 6.48, "c": "B"}]},
          "mark": {"type": "text", "align": "center", "baseline": "middle", "fontSize": 24, "color": "#222"},
          "encoding": {
            "x": {"field": "t", "type": "temporal", "scale": {"domain": ["1900-01-01T12:02", "1900-01-01T19:17"], "nice": false}, "axis": null},
            "y": {"field": "y", "type": "quantitative", "scale": {"type": "log", "domain": [0.01, 8], "nice": false}, "axis": null},
            "text": {"field": "c"}
          }
        }
      ]
    },
    {
      "width": 31,
      "height": 426,
      "view": {"stroke": "#222", "strokeWidth": 1.5},
      "title": {"text": "Particle number (particles/cm³)", "anchor": "middle", "dx": 16, "offset": 8},
      "data": {"values": [
        {"lo":-1,"hi":1,"c":"#000099"},{"lo":1,"hi":2,"c":"#0033AA"},{"lo":2,"hi":3,"c":"#0066C0"},{"lo":3,"hi":4,"c":"#00CCEE"},{"lo":4,"hi":5,"c":"#00CC50"},{"lo":5,"hi":6,"c":"#BFEE55"},{"lo":6,"hi":7,"c":"#FFFF55"},{"lo":7,"hi":8,"c":"#FFAA44"},{"lo":8,"hi":9,"c":"#FF6622"},{"lo":9,"hi":10,"c":"#FF3311"},{"lo":10,"hi":11,"c":"#CC0000"}
      ]},
      "mark": "rect",
      "encoding": {
        "y": {"field": "lo", "type": "quantitative", "scale": {"domain": [-1, 11], "nice": false, "zero": false}, "axis": {"title": null, "orient": "right", "domain": false, "tickSize": 8, "labelFontSize": 12.5, "values": [0,1,2,3,4,5,6,7,8,9,10], "labelExpr": "['0.0','5.0x10³','1.0x10⁴','5.0x10⁴','1.0x10⁵','5.0x10⁵','1.0x10⁶','2.5x10⁶','5.0x10⁶','7.5x10⁶','1.0x10⁷'][datum.value]"}},
        "y2": {"field": "hi"},
        "color": {"field": "c", "type": "nominal", "scale": null}
      }
    },
    {
      "width": 444,
      "height": 420,
      "view": {"fill": "#000099", "stroke": "#222", "strokeWidth": 1.5},
      "resolve": {"axis": {"x": "independent", "y": "independent"}},
      "layer": [
        {
          "data": {"format": {"parse": {"t": "date:'%H:%M'"}}, "values": [
            {"t":"12:48","u1":0.136,"u2":0.136,"u3":0.136,"u4":0.136,"u5":0.136,"u6":0.136,"u7":0.136,"u8":0.136,"u9":0.136,"u10":0.136,"d1":0.136,"d2":0.136,"d3":0.136,"d4":0.136,"d5":0.136,"d6":0.136,"d7":0.136,"d8":0.136,"d9":0.136,"d10":0.136},
            {"t":"12:49","u1":0.278,"u2":0.237,"u3":0.2,"u4":0.2,"u5":0.2,"u6":0.2,"u7":0.2,"u8":0.2,"u9":0.2,"u10":0.2,"d1":0.2,"d2":0.2,"d3":0.2,"d4":0.2,"d5":0.2,"d6":0.2,"d7":0.2,"d8":0.2,"d9":0.16,"d10":0.14},
            {"t":"12:50","u1":0.723,"u2":0.526,"u3":0.383,"u4":0.278,"u5":0.237,"u6":0.219,"u7":0.219,"u8":0.219,"u9":0.219,"u10":0.219,"d1":0.219,"d2":0.219,"d3":0.219,"d4":0.219,"d5":0.219,"d6":0.219,"d7":0.219,"d8":0.219,"d9":0.172,"d10":0.143},
            {"t":"12:52","u1":1.165,"u2":0.994,"u3":0.783,"u4":0.57,"u5":0.414,"u6":0.395,"u7":0.383,"u8":0.37,"u9":0.37,"u10":0.37,"d1":0.37,"d2":0.37,"d3":0.37,"d4":0.37,"d5":0.359,"d6":0.326,"d7":0.291,"d8":0.237,"d9":0.184,"d10":0.157},
            {"t":"12:54","u1":1.479,"u2":1.456,"u3":1.366,"u4":0.918,"u5":0.617,"u6":0.561,"u7":0.51,"u8":0.471,"u9":0.471,"u10":0.471,"d1":0.471,"d2":0.471,"d3":0.471,"d4":0.428,"d5":0.401,"d6":0.359,"d7":0.306,"d8":0.278,"d9":0.208,"d10":0.172},
            {"t":"12:56","u1":1.707,"u2":1.68,"u3":1.479,"u4":1.042,"u5":0.821,"u6":0.747,"u7":0.657,"u8":0.561,"u9":0.51,"u10":0.51,"d1":0.51,"d2":0.51,"d3":0.463,"d4":0.435,"d5":0.401,"d6":0.359,"d7":0.321,"d8":0.306,"d9":0.219,"d10":0.175},
            {"t":"13:00","u1":1.79,"u2":1.762,"u3":1.68,"u4":1.203,"u5":1.026,"u6":0.948,"u7":0.821,"u8":0.588,"u9":0.588,"u10":0.588,"d1":0.588,"d2":0.588,"d3":0.588,"d4":0.463,"d5":0.414,"d6":0.37,"d7":0.342,"d8":0.316,"d9":0.233,"d10":0.181},
            {"t":"13:05","u1":1.819,"u2":1.79,"u3":1.734,"u4":1.282,"u5":1.129,"u6":1.042,"u7":0.933,"u8":0.771,"u9":0.637,"u10":0.637,"d1":0.637,"d2":0.637,"d3":0.552,"d4":0.486,"d5":0.435,"d6":0.383,"d7":0.353,"d8":0.321,"d9":0.245,"d10":0.184},
            {"t":"13:10","u1":1.878,"u2":1.819,"u3":1.79,"u4":1.551,"u5":1.388,"u6":1.262,"u7":1.165,"u8":1.076,"u9":0.848,"u10":0.771,"d1":0.723,"d2":0.647,"d3":0.597,"d4":0.51,"d5":0.463,"d6":0.414,"d7":0.37,"d8":0.326,"d9":0.257,"d10":0.19},
            {"t":"13:15","u1":1.908,"u2":1.848,"u3":1.819,"u4":1.707,"u5":1.503,"u6":1.433,"u7":1.323,"u8":1.222,"u9":1.059,"u10":0.875,"d1":0.712,"d2":0.637,"d3":0.627,"d4":0.534,"d5":0.486,"d6":0.435,"d7":0.383,"d8":0.326,"d9":0.257,"d10":0.19},
            {"t":"13:20","u1":1.908,"u2":1.848,"u3":1.819,"u4":1.762,"u5":1.627,"u6":1.551,"u7":1.479,"u8":1.366,"u9":1.203,"u10":0.918,"d1":0.701,"d2":0.637,"d3":0.627,"d4":0.561,"d5":0.51,"d6":0.463,"d7":0.395,"d8":0.326,"d9":0.253,"d10":0.19},
            {"t":"13:25","u1":2.002,"u2":1.878,"u3":1.819,"u4":1.762,"u5":1.627,"u6":1.576,"u7":1.503,"u8":1.41,"u9":1.262,"u10":0.963,"d1":0.69,"d2":0.647,"d3":0.637,"d4":0.579,"d5":0.526,"d6":0.471,"d7":0.401,"d8":0.326,"d9":0.249,"d10":0.187},
            {"t":"13:30","u1":2.273,"u2":2.133,"u3":1.878,"u4":1.762,"u5":1.653,"u6":1.601,"u7":1.527,"u8":1.433,"u9":1.282,"u10":0.904,"d1":0.712,"d2":0.657,"d3":0.647,"d4":0.588,"d5":0.543,"d6":0.478,"d7":0.408,"d8":0.326,"d9":0.249,"d10":0.187},
            {"t":"13:35","u1":2.751,"u2":2.665,"u3":2.461,"u4":1.79,"u5":1.653,"u6":1.627,"u7":1.551,"u8":1.456,"u9":1.282,"u10":0.821,"d1":0.723,"d2":0.668,"d3":0.657,"d4":0.597,"d5":0.552,"d6":0.486,"d7":0.414,"d8":0.331,"d9":0.249,"d10":0.187},
            {"t":"13:40","u1":2.84,"u2":2.795,"u3":2.708,"u4":2.066,"u5":1.819,"u6":1.707,"u7":1.601,"u8":1.479,"u9":1.323,"u10":0.771,"d1":0.771,"d2":0.69,"d3":0.679,"d4":0.617,"d5":0.57,"d6":0.502,"d7":0.414,"d8":0.331,"d9":0.249,"d10":0.187},
            {"t":"13:45","u1":2.886,"u2":2.84,"u3":2.795,"u4":2.237,"u5":1.908,"u6":1.79,"u7":1.653,"u8":1.503,"u9":1.323,"u10":0.918,"d1":0.918,"d2":0.712,"d3":0.701,"d4":0.637,"d5":0.579,"d6":0.51,"d7":0.414,"d8":0.331,"d9":0.253,"d10":0.187},
            {"t":"13:50","u1":2.886,"u2":2.84,"u3":2.795,"u4":2.273,"u5":1.97,"u6":1.848,"u7":1.707,"u8":1.503,"u9":1.344,"u10":0.994,"d1":0.994,"d2":0.723,"d3":0.712,"d4":0.647,"d5":0.588,"d6":0.51,"d7":0.414,"d8":0.331,"d9":0.253,"d10":0.187},
            {"t":"14:00","u1":2.886,"u2":2.84,"u3":2.795,"u4":2.31,"u5":2.034,"u6":1.878,"u7":1.734,"u8":1.527,"u9":1.366,"u10":1.165,"d1":1.165,"d2":0.747,"d3":0.723,"d4":0.647,"d5":0.588,"d6":0.518,"d7":0.414,"d8":0.331,"d9":0.257,"d10":0.184},
            {"t":"14:10","u1":2.886,"u2":2.84,"u3":2.795,"u4":2.347,"u5":2.066,"u6":1.878,"u7":1.707,"u8":1.527,"u9":1.41,"u10":1.203,"d1":1.165,"d2":0.771,"d3":0.735,"d4":0.647,"d5":0.57,"d6":0.51,"d7":0.414,"d8":0.331,"d9":0.257,"d10":0.184},
            {"t":"14:20","u1":2.886,"u2":2.84,"u3":2.751,"u4":2.347,"u5":2.1,"u6":1.908,"u7":1.734,"u8":1.527,"u9":1.388,"u10":1.203,"d1":1.184,"d2":0.796,"d3":0.747,"d4":0.637,"d5":0.57,"d6":0.502,"d7":0.408,"d8":0.326,"d9":0.253,"d10":0.181},
            {"t":"14:30","u1":2.886,"u2":2.84,"u3":2.751,"u4":2.347,"u5":2.066,"u6":1.878,"u7":1.707,"u8":1.527,"u9":1.41,"u10":1.222,"d1":1.165,"d2":0.834,"d3":0.747,"d4":0.647,"d5":0.579,"d6":0.51,"d7":0.414,"d8":0.331,"d9":0.257,"d10":0.184},
            {"t":"14:40","u1":2.932,"u2":2.84,"u3":2.795,"u4":2.384,"u5":2.1,"u6":1.908,"u7":1.734,"u8":1.551,"u9":1.41,"u10":1.242,"d1":1.147,"d2":0.861,"d3":0.759,"d4":0.657,"d5":0.57,"d6":0.502,"d7":0.414,"d8":0.331,"d9":0.253,"d10":0.181},
            {"t":"14:50","u1":2.886,"u2":2.84,"u3":2.751,"u4":2.347,"u5":2.1,"u6":1.878,"u7":1.707,"u8":1.527,"u9":1.41,"u10":1.262,"d1":1.129,"d2":0.889,"d3":0.759,"d4":0.647,"d5":0.57,"d6":0.51,"d7":0.408,"d8":0.326,"d9":0.257,"d10":0.184},
            {"t":"15:00","u1":2.932,"u2":2.84,"u3":2.751,"u4":2.347,"u5":2.1,"u6":1.878,"u7":1.707,"u8":1.527,"u9":1.41,"u10":1.282,"d1":1.111,"d2":0.904,"d3":0.759,"d4":0.647,"d5":0.57,"d6":0.502,"d7":0.414,"d8":0.331,"d9":0.257,"d10":0.184},
            {"t":"15:10","u1":2.886,"u2":2.84,"u3":2.751,"u4":2.384,"u5":2.133,"u6":1.908,"u7":1.734,"u8":1.551,"u9":1.433,"u10":1.302,"d1":1.076,"d2":0.889,"d3":0.747,"d4":0.637,"d5":0.561,"d6":0.494,"d7":0.408,"d8":0.326,"d9":0.253,"d10":0.187},
            {"t":"15:20","u1":2.886,"u2":2.795,"u3":2.751,"u4":2.347,"u5":2.1,"u6":1.878,"u7":1.707,"u8":1.527,"u9":1.41,"u10":1.302,"d1":1.093,"d2":0.904,"d3":0.759,"d4":0.647,"d5":0.57,"d6":0.502,"d7":0.414,"d8":0.331,"d9":0.257,"d10":0.181},
            {"t":"15:30","u1":2.932,"u2":2.84,"u3":2.795,"u4":2.347,"u5":2.066,"u6":1.878,"u7":1.707,"u8":1.527,"u9":1.41,"u10":1.282,"d1":1.093,"d2":0.904,"d3":0.771,"d4":0.657,"d5":0.579,"d6":0.51,"d7":0.414,"d8":0.331,"d9":0.253,"d10":0.184},
            {"t":"15:40","u1":2.886,"u2":2.84,"u3":2.751,"u4":2.384,"u5":2.1,"u6":1.908,"u7":1.734,"u8":1.551,"u9":1.433,"u10":1.302,"d1":1.111,"d2":0.918,"d3":0.771,"d4":0.657,"d5":0.579,"d6":0.51,"d7":0.421,"d8":0.336,"d9":0.257,"d10":0.187},
            {"t":"15:50","u1":2.886,"u2":2.84,"u3":2.751,"u4":2.384,"u5":2.133,"u6":1.908,"u7":1.734,"u8":1.551,"u9":1.433,"u10":1.323,"d1":1.111,"d2":0.933,"d3":0.783,"d4":0.668,"d5":0.588,"d6":0.518,"d7":0.421,"d8":0.336,"d9":0.262,"d10":0.187},
            {"t":"16:00","u1":2.932,"u2":2.84,"u3":2.795,"u4":2.384,"u5":2.133,"u6":1.908,"u7":1.762,"u8":1.551,"u9":1.433,"u10":1.323,"d1":1.129,"d2":0.948,"d3":0.796,"d4":0.679,"d5":0.597,"d6":0.526,"d7":0.428,"d8":0.342,"d9":0.262,"d10":0.19},
            {"t":"16:10","u1":2.886,"u2":2.84,"u3":2.751,"u4":2.347,"u5":2.1,"u6":1.878,"u7":1.734,"u8":1.551,"u9":1.41,"u10":1.302,"d1":1.111,"d2":0.933,"d3":0.783,"d4":0.668,"d5":0.588,"d6":0.518,"d7":0.421,"d8":0.336,"d9":0.257,"d10":0.187},
            {"t":"16:20","u1":2.886,"u2":2.795,"u3":2.751,"u4":2.347,"u5":2.066,"u6":1.878,"u7":1.707,"u8":1.527,"u9":1.41,"u10":1.302,"d1":1.093,"d2":0.918,"d3":0.771,"d4":0.657,"d5":0.579,"d6":0.51,"d7":0.414,"d8":0.331,"d9":0.253,"d10":0.184},
            {"t":"16:30","u1":2.886,"u2":2.84,"u3":2.751,"u4":2.347,"u5":2.1,"u6":1.848,"u7":1.707,"u8":1.527,"u9":1.388,"u10":1.282,"d1":1.093,"d2":0.904,"d3":0.771,"d4":0.657,"d5":0.57,"d6":0.51,"d7":0.414,"d8":0.331,"d9":0.257,"d10":0.184},
            {"t":"16:40","u1":2.932,"u2":2.84,"u3":2.795,"u4":2.384,"u5":2.066,"u6":1.878,"u7":1.734,"u8":1.527,"u9":1.41,"u10":1.302,"d1":1.076,"d2":0.904,"d3":0.759,"d4":0.647,"d5":0.57,"d6":0.502,"d7":0.414,"d8":0.326,"d9":0.253,"d10":0.181},
            {"t":"16:50","u1":2.886,"u2":2.84,"u3":2.751,"u4":2.347,"u5":2.066,"u6":1.848,"u7":1.707,"u8":1.503,"u9":1.41,"u10":1.282,"d1":1.093,"d2":0.918,"d3":0.771,"d4":0.657,"d5":0.579,"d6":0.51,"d7":0.414,"d8":0.331,"d9":0.257,"d10":0.184},
            {"t":"17:00","u1":2.886,"u2":2.84,"u3":2.751,"u4":2.384,"u5":2.1,"u6":1.878,"u7":1.734,"u8":1.527,"u9":1.41,"u10":1.302,"d1":1.076,"d2":0.904,"d3":0.759,"d4":0.647,"d5":0.57,"d6":0.502,"d7":0.408,"d8":0.326,"d9":0.249,"d10":0.181},
            {"t":"17:10","u1":2.886,"u2":2.795,"u3":2.751,"u4":2.347,"u5":2.066,"u6":1.848,"u7":1.707,"u8":1.527,"u9":1.388,"u10":1.282,"d1":1.093,"d2":0.904,"d3":0.771,"d4":0.647,"d5":0.57,"d6":0.502,"d7":0.414,"d8":0.331,"d9":0.253,"d10":0.184},
            {"t":"17:20","u1":2.932,"u2":2.84,"u3":2.751,"u4":2.384,"u5":2.1,"u6":1.878,"u7":1.707,"u8":1.527,"u9":1.41,"u10":1.282,"d1":1.076,"d2":0.889,"d3":0.759,"d4":0.637,"d5":0.561,"d6":0.494,"d7":0.408,"d8":0.326,"d9":0.249,"d10":0.181},
            {"t":"17:30","u1":2.886,"u2":2.84,"u3":2.751,"u4":2.347,"u5":2.066,"u6":1.848,"u7":1.707,"u8":1.503,"u9":1.388,"u10":1.302,"d1":1.093,"d2":0.904,"d3":0.759,"d4":0.647,"d5":0.57,"d6":0.502,"d7":0.408,"d8":0.326,"d9":0.245,"d10":0.178},
            {"t":"17:40","u1":2.886,"u2":2.84,"u3":2.795,"u4":2.384,"u5":2.1,"u6":1.878,"u7":1.734,"u8":1.527,"u9":1.41,"u10":1.282,"d1":1.076,"d2":0.889,"d3":0.759,"d4":0.637,"d5":0.561,"d6":0.494,"d7":0.408,"d8":0.321,"d9":0.245,"d10":0.178},
            {"t":"17:50","u1":2.886,"u2":2.84,"u3":2.751,"u4":2.347,"u5":2.066,"u6":1.848,"u7":1.707,"u8":1.527,"u9":1.41,"u10":1.302,"d1":1.093,"d2":0.904,"d3":0.771,"d4":0.647,"d5":0.57,"d6":0.502,"d7":0.408,"d8":0.326,"d9":0.245,"d10":0.181},
            {"t":"18:00","u1":2.932,"u2":2.84,"u3":2.751,"u4":2.384,"u5":2.066,"u6":1.878,"u7":1.707,"u8":1.527,"u9":1.41,"u10":1.282,"d1":1.076,"d2":0.889,"d3":0.759,"d4":0.637,"d5":0.57,"d6":0.502,"d7":0.408,"d8":0.321,"d9":0.241,"d10":0.178},
            {"t":"18:10","u1":2.886,"u2":2.84,"u3":2.751,"u4":2.347,"u5":2.034,"u6":1.848,"u7":1.734,"u8":1.551,"u9":1.433,"u10":1.302,"d1":1.093,"d2":0.904,"d3":0.771,"d4":0.647,"d5":0.561,"d6":0.494,"d7":0.408,"d8":0.321,"d9":0.241,"d10":0.175},
            {"t":"18:20","u1":2.886,"u2":2.795,"u3":2.751,"u4":2.384,"u5":2.066,"u6":1.878,"u7":1.707,"u8":1.527,"u9":1.41,"u10":1.282,"d1":1.076,"d2":0.904,"d3":0.783,"d4":0.657,"d5":0.57,"d6":0.502,"d7":0.408,"d8":0.326,"d9":0.241,"d10":0.178},
            {"t":"18:30","u1":2.932,"u2":2.84,"u3":2.751,"u4":2.347,"u5":2.034,"u6":1.848,"u7":1.734,"u8":1.551,"u9":1.433,"u10":1.302,"d1":1.093,"d2":0.918,"d3":0.771,"d4":0.668,"d5":0.579,"d6":0.502,"d7":0.408,"d8":0.321,"d9":0.237,"d10":0.175},
            {"t":"18:40","u1":2.886,"u2":2.84,"u3":2.751,"u4":2.384,"u5":2.066,"u6":1.848,"u7":1.707,"u8":1.551,"u9":1.433,"u10":1.302,"d1":1.076,"d2":0.933,"d3":0.783,"d4":0.668,"d5":0.579,"d6":0.502,"d7":0.408,"d8":0.321,"d9":0.237,"d10":0.175},
            {"t":"18:50","u1":2.886,"u2":2.84,"u3":2.751,"u4":2.347,"u5":2.034,"u6":1.878,"u7":1.734,"u8":1.576,"u9":1.456,"u10":1.323,"d1":1.093,"d2":0.918,"d3":0.796,"d4":0.679,"d5":0.588,"d6":0.502,"d7":0.408,"d8":0.321,"d9":0.237,"d10":0.172},
            {"t":"19:00","u1":2.932,"u2":2.84,"u3":2.751,"u4":2.384,"u5":2.034,"u6":1.848,"u7":1.707,"u8":1.551,"u9":1.433,"u10":1.302,"d1":1.076,"d2":0.933,"d3":0.783,"d4":0.668,"d5":0.579,"d6":0.502,"d7":0.408,"d8":0.316,"d9":0.233,"d10":0.172},
            {"t":"19:10","u1":2.886,"u2":2.84,"u3":2.751,"u4":2.347,"u5":2.066,"u6":1.848,"u7":1.734,"u8":1.576,"u9":1.456,"u10":1.323,"d1":1.093,"d2":0.933,"d3":0.796,"d4":0.679,"d5":0.588,"d6":0.502,"d7":0.408,"d8":0.321,"d9":0.233,"d10":0.172},
            {"t":"19:17","u1":2.91,"u2":2.84,"u3":2.751,"u4":2.384,"u5":2.034,"u6":1.848,"u7":1.734,"u8":1.576,"u9":1.456,"u10":1.323,"d1":1.093,"d2":0.933,"d3":0.796,"d4":0.679,"d5":0.588,"d6":0.502,"d7":0.408,"d8":0.321,"d9":0.233,"d10":0.172}
          ]},
          "transform": [{"fold": ["u1","u2","u3","u4","u5","u6","u7","u8","u9","u10","d1","d2","d3","d4","d5","d6","d7","d8","d9","d10"], "as": ["band", "um"]}],
          "mark": {"type": "area", "orient": "vertical", "clip": true},
          "encoding": {
            "x": {"field": "t", "type": "temporal", "scale": {"domain": ["1900-01-01T12:02", "1900-01-01T19:17"], "nice": false}, "axis": {"title": "Time (HH:MM)", "orient": "bottom", "titlePadding": 11, "format": "%H:%M", "tickSize": 6, "labelPadding": 8, "values": ["1900-01-01T13:00","1900-01-01T14:00","1900-01-01T15:00","1900-01-01T16:00","1900-01-01T17:00","1900-01-01T18:00","1900-01-01T19:00"]}},
            "y": {"field": "um", "type": "quantitative", "stack": null, "scale": {"type": "log", "domain": [0.01, 8], "nice": false}, "axis": {"title": "Particle diameter (µm)", "orient": "left", "titlePadding": 9, "format": "~g", "values": [0.01, 0.1, 1]}},
            "y2": {"datum": 0.01},
            "color": {"field": "band", "type": "nominal", "scale": {"domain": ["u1","u2","u3","u4","u5","u6","u7","u8","u9","u10","d1","d2","d3","d4","d5","d6","d7","d8","d9","d10"], "range": ["#0000FF","#0099FF","#33FFFF","#AAFFFF","#00DD00","#99DD33","#FFFF00","#E6BB66","#FF8000","#FF0000","#FF8000","#E6BB66","#FFFF00","#99DD33","#00DD00","#AAFFFF","#33FFFF","#0099FF","#0000FF","#000099"]}, "legend": null}
          }
        },
        {
          "data": {"format": {"parse": {"t": "date:'%H:%M'"}}, "values": [{"t": "12:48", "lo": 0.01, "hi": 8}]},
          "mark": {"type": "rule", "color": "#fff", "strokeWidth": 2, "strokeDash": [8, 5]},
          "encoding": {
            "x": {"field": "t", "type": "temporal", "scale": {"domain": ["1900-01-01T12:02", "1900-01-01T19:17"], "nice": false}, "axis": {"title": null, "orient": "bottom", "labels": false, "domain": false, "tickSize": 4, "values": ["1900-01-01T12:30","1900-01-01T13:30","1900-01-01T14:30","1900-01-01T15:30","1900-01-01T16:30","1900-01-01T17:30","1900-01-01T18:30"]}},
            "y": {"field": "lo", "type": "quantitative", "scale": {"type": "log", "domain": [0.01, 8], "nice": false}, "axis": {"title": null, "orient": "left", "labels": false, "domain": false, "tickSize": 4, "values": [0.02,0.03,0.04,0.05,0.06,0.07,0.08,0.09,0.2,0.3,0.4,0.5,0.6,0.7,0.8,0.9,2,3,4,5,6,7,8]}},
            "y2": {"field": "hi"}
          }
        },
        {
          "data": {"format": {"parse": {"t": "date:'%H:%M'"}}, "values": [{"t": "12:58", "y": 6.92, "c": "UV light on"}]},
          "mark": {"type": "text", "align": "left", "baseline": "middle", "fontSize": 16, "color": "#d8dcf0"},
          "encoding": {
            "x": {"field": "t", "type": "temporal", "scale": {"domain": ["1900-01-01T12:02", "1900-01-01T19:17"], "nice": false}, "axis": null},
            "y": {"field": "y", "type": "quantitative", "scale": {"type": "log", "domain": [0.01, 8], "nice": false}, "axis": null},
            "text": {"field": "c"}
          }
        },
        {
          "data": {"format": {"parse": {"t": "date:'%H:%M'"}}, "values": [{"t": "12:24", "y": 0.337, "c": "Background"}]},
          "mark": {"type": "text", "angle": 270, "align": "center", "baseline": "middle", "fontSize": 16, "color": "#d8dcf0"},
          "encoding": {
            "x": {"field": "t", "type": "temporal", "scale": {"domain": ["1900-01-01T12:02", "1900-01-01T19:17"], "nice": false}, "axis": null},
            "y": {"field": "y", "type": "quantitative", "scale": {"type": "log", "domain": [0.01, 8], "nice": false}, "axis": null},
            "text": {"field": "c"}
          }
        },
        {
          "data": {"format": {"parse": {"a": "date:'%H:%M'", "b": "date:'%H:%M'"}}, "values": [{"a": "10:11", "b": "10:53", "top": 8.15, "bot": 4.05}]},
          "mark": {"type": "rect", "fill": "white", "stroke": "#222", "strokeWidth": 1},
          "encoding": {
            "x": {"field": "a", "type": "temporal", "scale": {"domain": ["1900-01-01T12:02", "1900-01-01T19:17"], "nice": false}, "axis": null},
            "x2": {"field": "b"},
            "y": {"field": "top", "type": "quantitative", "scale": {"type": "log", "domain": [0.01, 8], "nice": false}, "axis": null},
            "y2": {"field": "bot"}
          }
        },
        {
          "data": {"format": {"parse": {"t": "date:'%H:%M'"}}, "values": [{"t": "10:32", "y": 5.75, "c": "C"}]},
          "mark": {"type": "text", "align": "center", "baseline": "middle", "fontSize": 24, "color": "#222"},
          "encoding": {
            "x": {"field": "t", "type": "temporal", "scale": {"domain": ["1900-01-01T12:02", "1900-01-01T19:17"], "nice": false}, "axis": null},
            "y": {"field": "y", "type": "quantitative", "scale": {"type": "log", "domain": [0.01, 8], "nice": false}, "axis": null},
            "text": {"field": "c"}
          }
        }
      ]
    },
    {
      "width": 31,
      "height": 420,
      "view": {"stroke": "#222", "strokeWidth": 1.5},
      "title": {"text": "SOA mass (mg/m³)", "anchor": "middle", "offset": 10},
      "data": {"values": [
        {"lo":-1,"hi":1,"c":"#000099"},{"lo":1,"hi":2,"c":"#0000FF"},{"lo":2,"hi":3,"c":"#0099FF"},{"lo":3,"hi":4,"c":"#33FFFF"},{"lo":4,"hi":5,"c":"#AAFFFF"},{"lo":5,"hi":6,"c":"#00DD00"},{"lo":6,"hi":7,"c":"#99DD33"},{"lo":7,"hi":8,"c":"#FFFF00"},{"lo":8,"hi":9,"c":"#E6BB66"},{"lo":9,"hi":10,"c":"#FF8000"},{"lo":10,"hi":11,"c":"#FF0000"},{"lo":11,"hi":12,"c":"#CC0000"}
      ]},
      "mark": "rect",
      "encoding": {
        "y": {"field": "lo", "type": "quantitative", "scale": {"domain": [-1, 12], "nice": false, "zero": false}, "axis": {"title": null, "orient": "right", "domain": false, "tickSize": 6, "labelFont": "Liberation Sans", "labelColor": "#333", "labelFontSize": 12, "values": [0,1,2,3,4,5,6,7,8,9,10,11], "labelExpr": "['0.0','0.5','1.0','2.0','4.0','6.0','8.0','10.0','12.0','14.0','16.0','18.0'][datum.value]"}},
        "y2": {"field": "hi"},
        "color": {"field": "c", "type": "nominal", "scale": null}
      }
    }
  ]
}
